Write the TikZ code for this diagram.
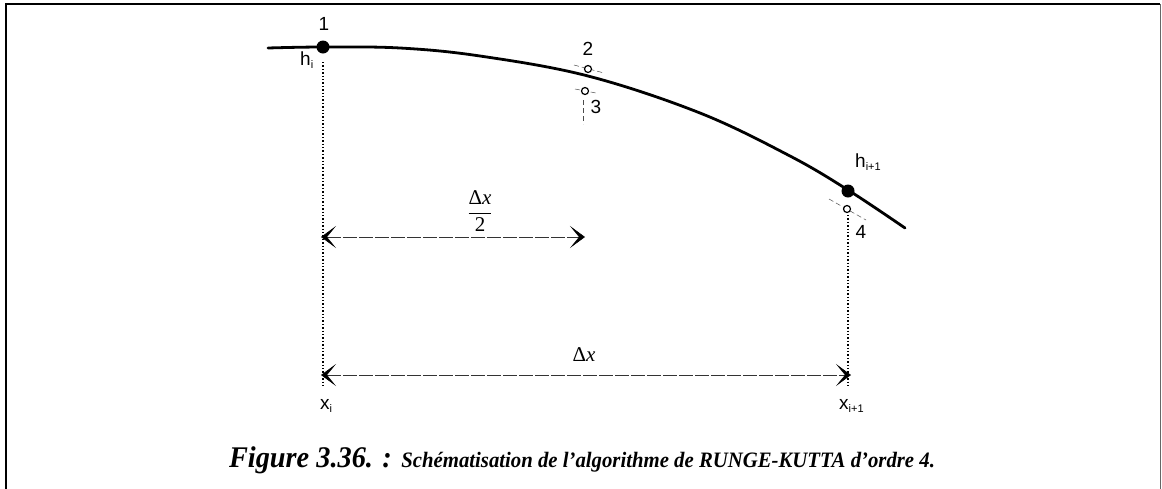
\documentclass[tikz,border=0pt]{standalone}
\usepackage{fontspec}
\setmainfont{Liberation Serif}
\newfontfamily\arl{Liberation Sans}
\usetikzlibrary{arrows.meta}
\tikzset{
  lbl/.style={font=\arl\fontsize{19}{22}\selectfont, inner sep=0pt},
  mlbl/.style={font=\fontsize{21}{24}\selectfont, inner sep=0pt},
  bigdot/.style={circle, fill=black, minimum size=13pt, inner sep=0pt},
  opendot/.style={circle, draw=black, line width=1.2pt, fill=white, minimum size=7pt, inner sep=0pt},
  guide/.style={line width=1.4pt, dotted, black},
  tick/.style={line width=0.5pt, dash pattern=on 5pt off 3pt, black!70},
  dimline/.style={line width=0.6pt, dash pattern=on 14pt off 2pt, black!80,
    {Stealth[length=15pt,width=22pt,inset=9pt,black]}-{Stealth[length=15pt,width=22pt,inset=9pt,black]}},
}
\begin{document}
\begin{tikzpicture}[x=1pt,y=-1pt]
\useasboundingbox (0,0) rectangle (1162,488);
% frame
\draw[line width=2.2pt] (6,500) -- (6,4) -- (1160,4);
\draw[line width=0.8pt, black!60] (1160,4) -- (1160,500);
% curve
\draw[line width=2.8pt, line cap=round] plot[smooth, tension=0.6] coordinates
  {(268,48) (323,47) (400,48) (480,56) (588,76) (700,113) (790,156) (848,190) (905,228)};
% points
\node[bigdot] (p1) at (323,47) {};
\node[bigdot] (p5) at (848,191) {};
\coordinate (t2a) at (574,65); \coordinate (t2b) at (604,73);
\draw[tick] (t2a) -- (t2b);
\node[opendot] (p2) at (588,69) {};
\coordinate (t3a) at (575,89); \coordinate (t3b) at (596,93);
\draw[tick] (t3a) -- (t3b);
\node[opendot] (p3) at (585,91) {};
\coordinate (v3a) at (583,100); \coordinate (v3b) at (583,124);
\draw[tick] (v3a) -- (v3b);
\coordinate (t4a) at (829,199); \coordinate (t4b) at (866,220);
\draw[tick] (t4a) -- (t4b);
\node[opendot] (p4) at (847,209) {};
% labels
\node[lbl] (l1) at (324,24) {1};
\node[lbl, anchor=west] (lhi) at (300,60) {h\textsubscript{\fontsize{11}{12}\selectfont i}};
\node[lbl] (l2) at (588,49) {2};
\node[lbl] (l3) at (596,107) {3};
\node[lbl] (l4) at (861,232) {4};
\node[lbl, anchor=west] (lhn) at (855,162) {h\textsubscript{\fontsize{11}{12}\selectfont i+1}};
% guides
\coordinate (g1a) at (323,62); \coordinate (g1b) at (323,388);
\draw[guide] (g1a) -- (g1b);
\coordinate (g2a) at (848,215); \coordinate (g2b) at (848,388);
\draw[guide] (g2a) -- (g2b);
% dimension arrows
\coordinate (a1) at (321,237); \coordinate (a2) at (585,237);
\draw[dimline] (a1) -- (a2);
\node[mlbl] (half) at (480,213) {\setlength{\arrayrulewidth}{1pt}\renewcommand{\arraystretch}{1.1}\begin{tabular}{@{}c@{}}Δ\textit{x}\\\hline 2\end{tabular}};
\coordinate (b1) at (321,375); \coordinate (b2) at (851,375);
\draw[dimline] (b1) -- (b2);
\node[mlbl] (dx) at (584,355) {Δ\textit{x}};
\node[lbl, anchor=west] (xi) at (320,406) {x\textsubscript{\fontsize{11}{12}\selectfont i}};
\node[lbl, anchor=west] (xn) at (839,406) {x\textsubscript{\fontsize{11}{12}\selectfont i+1}};
% caption
\node[inner sep=0pt] (cap) at (582,460) {\scalebox{0.944}[1]{\bfseries\itshape\fontsize{30}{34}\selectfont Figure 3.36. : {\fontsize{22}{26}\selectfont Schématisation de l'algorithme de RUNGE-KUTTA d'ordre 4.}}};
\end{tikzpicture}
\end{document}
